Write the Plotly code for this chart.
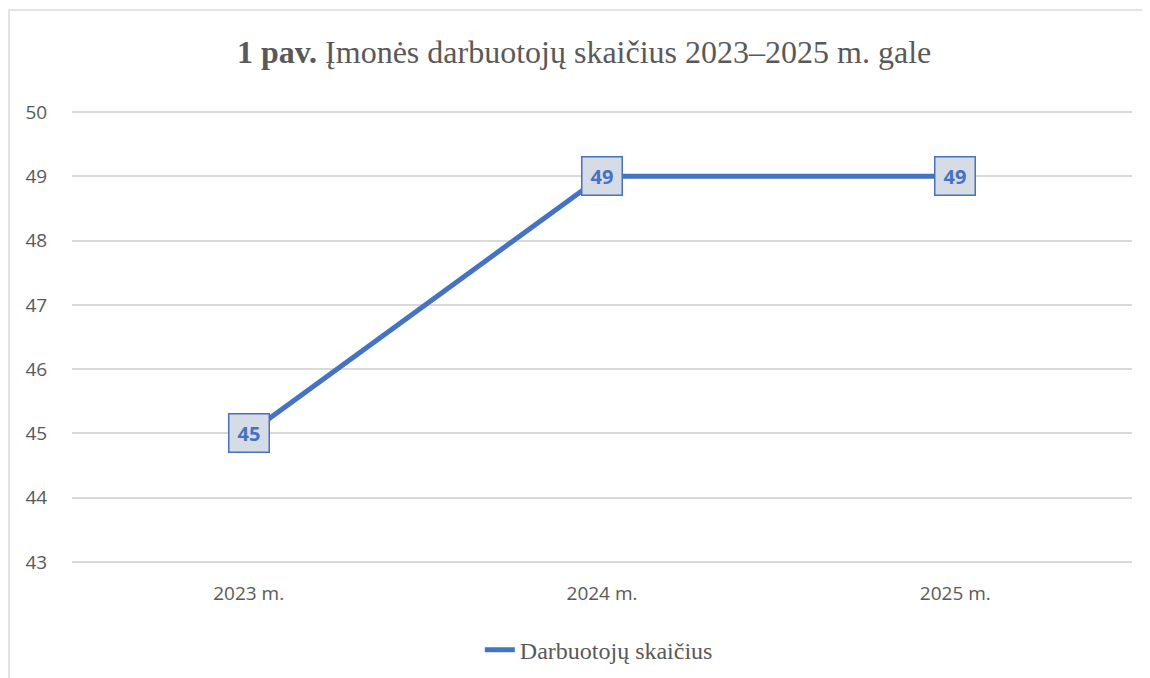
import plotly.graph_objects as go

categories = ["2023 m.", "2024 m.", "2025 m."]
values = [45, 49, 49]
series_name = "Darbuotojų skaičius"
y_ticks = [43, 44, 45, 46, 47, 48, 49, 50]

BLUE = "#4472C4"
GRAY = "#595959"

fig = go.Figure()
fig.add_trace(go.Scatter(
    x=list(range(len(categories))), y=values, mode="lines",
    name=series_name,
    line=dict(color=BLUE, width=5),
))

for i, v in enumerate(values):
    fig.add_annotation(
        x=i, y=v, xref="x", yref="y", text=f"<b>{v}</b>", showarrow=False,
        font=dict(family="Open Sans", size=20, color=BLUE),
        bgcolor="#D6DCE5", bordercolor=BLUE, borderwidth=1.5, borderpad=1,
        width=37, height=35,
    )

fig.add_shape(type="rect", xref="paper", yref="paper",
              x0=-0.0594, x1=1.2, y0=-0.4, y1=1.22,
              line=dict(color="#D9D9D9", width=1.5), fillcolor="rgba(0,0,0,0)",
              layer="below")

fig.update_layout(
    width=1150, height=678,
    margin=dict(l=64, r=26, t=102, b=122),
    paper_bgcolor="white", plot_bgcolor="white",
    title=dict(text="<b>1 pav.</b> Įmonės darbuotojų skaičius 2023–2025 m. gale",
               x=0.501, xref="container", xanchor="center",
               y=1 - 44 / 678, yref="container", yanchor="middle",
               font=dict(family="Liberation Serif", size=32, color=GRAY)),
    xaxis=dict(range=[-0.5, 2.5], tickmode="array",
               tickvals=list(range(len(categories))), ticktext=categories,
               showgrid=False, zeroline=False, showline=False,
               ticks="outside", ticklen=12, tickcolor="rgba(0,0,0,0)",
               tickfont=dict(family="Open Sans", size=19, color=GRAY)),
    yaxis=dict(range=[42.97, 50.03], tickmode="array", tickvals=y_ticks,
               showgrid=True, gridcolor="#D9D9D9", gridwidth=1.5,
               zeroline=False, showline=False, ticks="outside", ticklen=20,
               tickcolor="rgba(0,0,0,0)",
               tickfont=dict(family="Open Sans", size=19, color=GRAY)),
    showlegend=True,
    legend=dict(orientation="h", x=0.497, xanchor="center",
                y=-0.19, yanchor="middle",
                font=dict(family="Liberation Serif", size=24, color=GRAY)),
)

fig.write_html("out.html")
